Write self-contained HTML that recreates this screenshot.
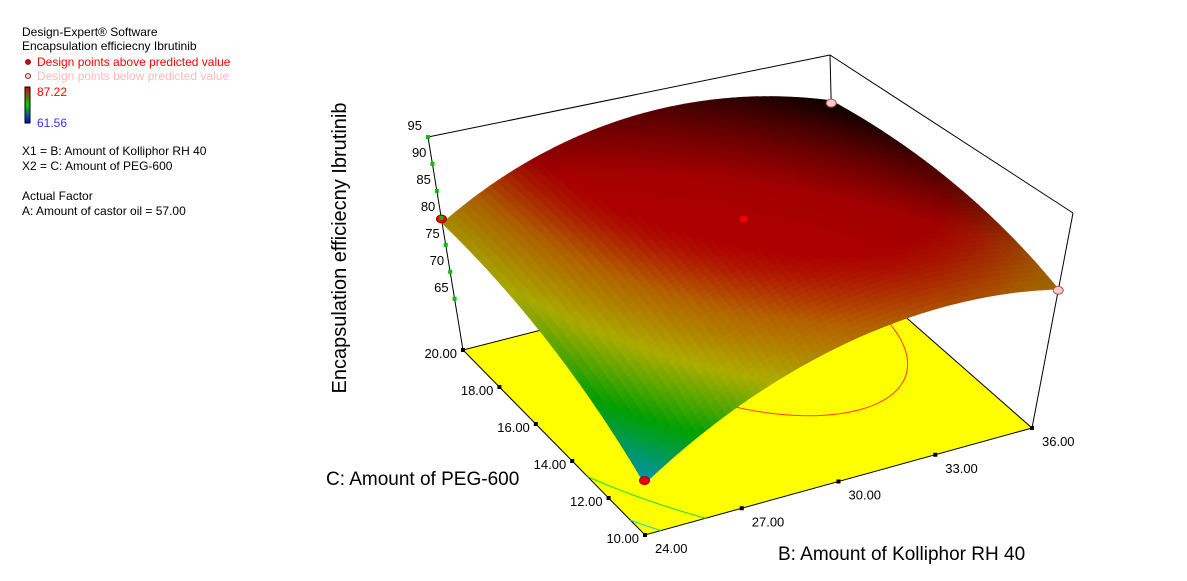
<!DOCTYPE html>
<html><head><meta charset="utf-8"><style>
body{margin:0;background:#fff;}
svg text{font-family:"Liberation Sans",Arial,sans-serif;}
</style></head><body>
<svg id="chart" width="1187" height="576" viewBox="0 0 1187 576" xmlns="http://www.w3.org/2000/svg">
<g font-size="12">
<text x="22" y="36" fill="#000">Design-Expert® Software</text>
<text x="22" y="50" fill="#000">Encapsulation efficiecny Ibrutinib</text>
<circle cx="28" cy="62" r="2.5" fill="#d00" stroke="#600" stroke-width="0.8"/>
<text x="37" y="66" fill="#f00">Design points above predicted value</text>
<circle cx="28" cy="76" r="2.5" fill="#fcc" stroke="#600" stroke-width="0.8"/>
<text x="37" y="80" fill="#fbb">Design points below predicted value</text>
<defs><linearGradient id="cb" x1="0" y1="0" x2="0" y2="1">
<stop offset="0" stop-color="#e00000"/><stop offset="0.5" stop-color="#00d000"/><stop offset="1" stop-color="#0000ff"/></linearGradient></defs>
<rect x="25" y="87" width="5" height="36" fill="url(#cb)" stroke="#000" stroke-width="1"/>
<text x="37" y="96" fill="#f00">87.22</text>
<text x="37" y="127" fill="#33f">61.56</text>
<text x="22" y="155" fill="#000">X1 = B: Amount of Kolliphor RH 40</text>
<text x="22" y="170" fill="#000">X2 = C: Amount of PEG-600</text>
<text x="22" y="200" fill="#000">Actual Factor</text>
<text x="22" y="215" fill="#000">A: Amount of castor oil = 57.00</text>
</g>
<g id="floor"></g><g id="contours"></g><g id="box"></g><g id="surf"></g><g id="pts"></g><g id="labels"></g>
<text transform="translate(346,248) rotate(-90)" text-anchor="middle" font-size="20">Encapsulation efficiecny Ibrutinib</text>
<text x="326" y="485" font-size="19">C: Amount of PEG-600</text>
<text x="778" y="560" font-size="19">B: Amount of Kolliphor RH 40</text>
</svg>
<script>
// model coefficients (coded units): intercept, B, C, BC, B^2, C^2
const coefNames=["a","b","c","d","e","f"];
const coefValues=[89.25,5.75,4.75,-2.25,-8.5,-3];
const zTicks=[65,70,75,80,85,90,95];
const bTicks=[24,27,30,33,36];
const cTicks=[10,12,14,16,18,20];
const designB=[24,30,24,36,36];
const designC=[20,15,10,20,10];
const designZ=[79.8,88.0,65.6,85.5,80.8];
const designAbove=[true,true,true,false,false];
const contourLevels=[67,72,88];
const colorMin=61.56, colorMax=87.22;

const NS="http://www.w3.org/2000/svg";
const zMin=55.5,zMax=95,bMin=24,bMax=36,cMin=10,cMax=20;
const P={"00":[645,535],"01":[463,350],"10":[1032,428],"11":[835,255]};
const T={"00":[643,322],"01":[428,137],"10":[1073,213],"11":[830,55]};
function bil(M,u,v){const a=M["00"],b=M["10"],c=M["01"],d=M["11"];
return [a[0]*(1-u)*(1-v)+b[0]*u*(1-v)+c[0]*(1-u)*v+d[0]*u*v, a[1]*(1-u)*(1-v)+b[1]*u*(1-v)+c[1]*(1-u)*v+d[1]*u*v];}
function proj(B,C,z){const u=(B-bMin)/(bMax-bMin),v=(C-cMin)/(cMax-cMin),f=(z-zMin)/(zMax-zMin);
const F=bil(P,u,v),Tp=bil(T,u,v);return [F[0]+(Tp[0]-F[0])*f,F[1]+(Tp[1]-F[1])*f];}
function model(B,C){const x=(B-30)/6,y=(C-15)/5,k=coefValues;
return k[0]+k[1]*x+k[2]*y+k[3]*x*y+k[4]*x*x+k[5]*y*y;}
function mk(tag,attrs,parent){const e=document.createElementNS(NS,tag);for(const k in attrs)e.setAttribute(k,attrs[k]);parent.appendChild(e);return e;}
const stops=[[0,[0,80,255]],[0.15,[0,200,230]],[0.38,[0,220,0]],[0.62,[240,240,0]],[0.82,[255,140,0]],[0.95,[255,30,0]],[1,[255,0,0]]];
function cmap(z){let t=Math.max(0,Math.min(1,(z-colorMin)/(colorMax-colorMin)));
for(let i=1;i<stops.length;i++){if(t<=stops[i][0]){const s=(t-stops[i-1][0])/(stops[i][0]-stops[i-1][0]);
return stops[i-1][1].map((c,j)=>c+(stops[i][1][j]-c)*s);}}return stops[stops.length-1][1];}

const fl=document.getElementById('floor');
const fp=[proj(24,20,zMin),proj(24,10,zMin),proj(36,10,zMin),proj(36,20,zMin)];
let e=mk('polygon',{points:fp.map(p=>p.join(',')).join(' '),fill:'#ffff00',stroke:'#000','stroke-width':1},fl);



const cg=document.getElementById('contours');const N=60;
const ccol={67:'#00d8e8',72:'#22dd22',88:'#ff3a1a'};
contourLevels.forEach(L=>{let d='';
for(let i=0;i<N;i++)for(let j=0;j<N;j++){
const B0=bMin+(bMax-bMin)*i/N,B1=bMin+(bMax-bMin)*(i+1)/N,C0=cMin+(cMax-cMin)*j/N,C1=cMin+(cMax-cMin)*(j+1)/N;
const cs=[[B0,C0],[B1,C0],[B1,C1],[B0,C1]];const vs=cs.map(c=>model(c[0],c[1]));const pts=[];
for(let k=0;k<4;k++){const a=vs[k],b=vs[(k+1)%4];if((a-L)*(b-L)<0){const s=(L-a)/(b-a);const ca=cs[k],cb=cs[(k+1)%4];
pts.push(proj(ca[0]+(cb[0]-ca[0])*s,ca[1]+(cb[1]-ca[1])*s,zMin));}}
if(pts.length>=2)d+='M'+pts[0].join(',')+'L'+pts[1].join(',');if(pts.length==4)d+='M'+pts[2].join(',')+'L'+pts[3].join(',');}
const p=mk('path',{d:d,stroke:ccol[L]||'#f00','stroke-width':1,fill:'none'},cg);

});

const bx=document.getElementById('box');
[[[24,20,zMin],[24,20,zMax]],[[24,20,zMax],[36,20,zMax]],[[36,20,zMax],[36,20,zMin]],[[36,20,zMax],[36,10,zMax]],[[36,10,zMax],[36,10,zMin]]].forEach((s,i)=>{
const a=proj(...s[0]),b=proj(...s[1]);
const l=mk('line',{x1:a[0],y1:a[1],x2:b[0],y2:b[1],stroke:'#000','stroke-width':1},bx);

});

const sg=document.getElementById('surf');const M=60;const cells=[];
for(let i=0;i<M;i++)for(let j=0;j<M;j++)cells.push([i,j]);
cells.sort((a,b)=>(b[0]+b[1])-(a[0]+a[1]));
cells.forEach(([i,j])=>{const B0=bMin+(bMax-bMin)*i/M,B1=bMin+(bMax-bMin)*(i+1)/M,C0=cMin+(cMax-cMin)*j/M,C1=cMin+(cMax-cMin)*(j+1)/M;
const q=[[B0,C0],[B1,C0],[B1,C1],[B0,C1]].map(c=>proj(c[0],c[1],model(c[0],c[1])));
const zc=model((B0+B1)/2,(C0+C1)/2);
let area=0;for(let k=0;k<4;k++){const a=q[k],b=q[(k+1)%4];area+=a[0]*b[1]-b[0]*a[1];}area=Math.abs(area)/2;
const s=Math.sqrt(area)*0.42;
let dk=Math.pow(Math.max(0.03,Math.min(1,(s-1)/s)),0.8);
const uv=(i+0.5)/M+(j+0.5)/M;
dk*=1-0.8*Math.max(0,Math.min(1,(uv-1.15)/0.75));
const c=cmap(zc).map(v=>Math.round(v*dk));
const col='rgb('+c.join(',')+')';
const p=mk('polygon',{points:q.map(p=>p[0].toFixed(1)+','+p[1].toFixed(1)).join(' '),fill:col,stroke:col,'stroke-width':0.6},sg);

});

const pg=document.getElementById('pts');
designB.forEach((B,k)=>{const p=proj(B,designC[k],designZ[k]);
const el=mk('ellipse',{cx:p[0],cy:p[1],rx:5,ry:4,fill:designAbove[k]?'#f00000':'#ffc8c8',stroke:designAbove[k]?'#900':'#a55','stroke-width':1},pg);

});

const lg=document.getElementById('labels');
zTicks.forEach(z=>{const p=proj(24,20,z);
const t=mk('rect',{x:p[0]-2,y:p[1]-2,width:4,height:4,fill:'#00c000'},lg);


const tx=mk('text',{x:p[0]-6,y:p[1]-7,'text-anchor':'end','font-size':13},lg);tx.textContent=z;

});
cTicks.forEach(c=>{const p=proj(24,c,zMin);
const t=mk('rect',{x:p[0]-2,y:p[1]-2,width:4,height:4,fill:'#000'},lg);


const tx=mk('text',{x:p[0]-6,y:p[1]+8,'text-anchor':'end','font-size':13},lg);tx.textContent=c.toFixed(2);

});
bTicks.forEach(b=>{const p=proj(b,10,zMin);
const t=mk('rect',{x:p[0]-2,y:p[1]-2,width:4,height:4,fill:'#000'},lg);


const tx=mk('text',{x:p[0]+10,y:p[1]+18,'font-size':13},lg);tx.textContent=b.toFixed(2);

});
</script>
</body></html>
